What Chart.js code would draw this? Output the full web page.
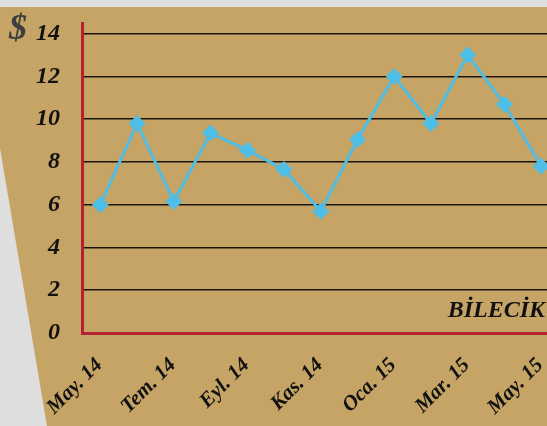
<!DOCTYPE html>
<html>
<head>
<meta charset="utf-8">
<script src="https://cdn.jsdelivr.net/npm/chart.js@4/dist/chart.umd.min.js"></script>
<style>
  html, body { margin: 0; padding: 0; overflow: hidden; }
  body { width: 547px; height: 426px; background: #dedede; position: relative; }
  .panel {
    position: absolute; left: 0; top: 0; width: 547px; height: 426px;
    background: #c5a465;
    clip-path: polygon(0 7px, 100% 7px, 100% 100%, 47px 100%, 0 148px);
  }
  #chart { position: absolute; left: 0; top: 0; }
  .unit {
    position: absolute; left: 9px; top: 6px; line-height: 1;
    font: italic bold 36px "Liberation Serif", serif; color: #3e3e3e;
  }
  .city {
    position: absolute; right: 2px; top: 296px; line-height: 1;
    font: italic bold 24px "Liberation Serif", serif; color: #111;
  }
</style>
</head>
<body>
<div class="panel"></div>
<canvas id="chart" width="568" height="426"></canvas>
<div class="unit">$</div>
<div class="city">BİLECİK</div>
<script>
var months = ['May. 14', 'Haz. 14', 'Tem. 14', 'Ağu. 14', 'Eyl. 14', 'Eki. 14', 'Kas. 14',
              'Ara. 14', 'Oca. 15', 'Şub. 15', 'Mar. 15', 'Nis. 15', 'May. 15'];
var prices = [6.0, 9.8, 6.15, 9.35, 8.55, 7.65, 5.7, 9.05, 12.0, 9.8, 13.0, 10.7, 7.8];
var yTicks = [0, 2, 4, 6, 8, 10, 12, 14];

var blue = '#4ebee6';
var red = '#b5212f';

var chart = new Chart(document.getElementById('chart'), {
    type: 'line',
    data: {
        labels: months,
        datasets: [{
            data: prices,
            borderColor: blue,
            borderWidth: 3,
            pointStyle: 'rectRot',
            pointRadius: 8.5,
            pointBackgroundColor: blue,
            pointBorderColor: blue,
            pointBorderWidth: 0,
            tension: 0
        }]
    },
    options: {
        responsive: false,
        animation: false,
        devicePixelRatio: 1,
        layout: { padding: { top: 23, left: 0, right: 0, bottom: 0 } },
        plugins: { legend: { display: false }, tooltip: { enabled: false } },
        scales: {
            x: {
                offset: true,
                grid: { display: false, drawTicks: false },
                border: { color: red, width: 3 },
                ticks: {
                    autoSkip: false,
                    maxRotation: 45,
                    minRotation: 45,
                    padding: 20,
                    labelOffset: -1,
                    color: '#111',
                    font: { family: 'Liberation Serif', size: 21, style: 'italic', weight: 'bold' },
                    callback: function (v, i) { return i % 2 === 0 ? months[i] : ''; }
                },
                afterFit: function (s) { s.height = 93; s.paddingLeft = 0; s.paddingRight = 0; }
            },
            y: {
                min: 0,
                max: 14.5,
                afterBuildTicks: function (s) { s.ticks = yTicks.map(function (v) { return { value: v }; }); },
                grid: { color: '#1a150c', lineWidth: 1.5, drawTicks: false },
                border: { color: red, width: 3 },
                ticks: {
                    padding: 22,
                    color: '#111',
                    font: { family: 'Liberation Serif', size: 24, style: 'italic', weight: 'bold' }
                },
                afterFit: function (s) { s.width = 82; s.paddingTop = 0; s.paddingBottom = 0; }
            }
        }
    }
});
</script>
</body>
</html>
